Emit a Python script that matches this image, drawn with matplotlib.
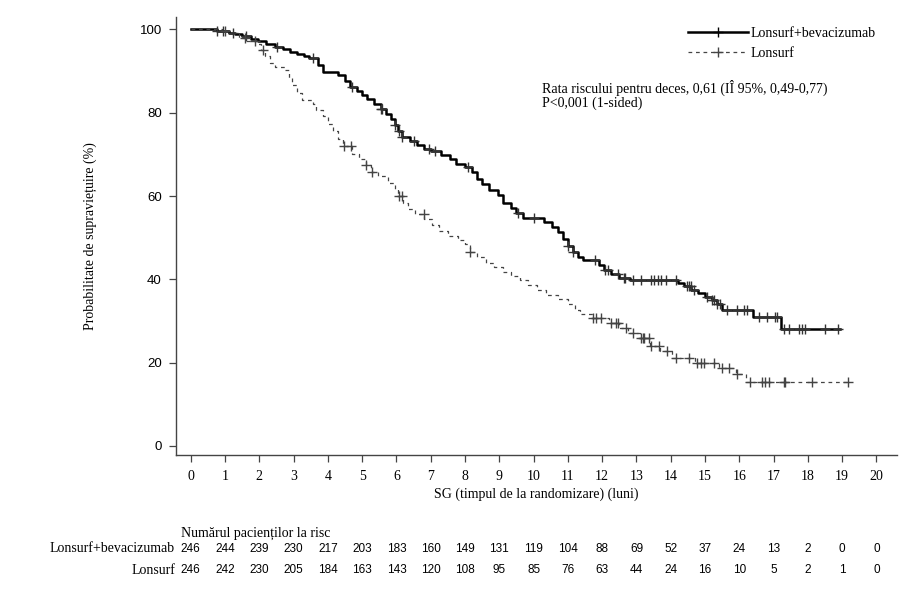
import numpy as np
import matplotlib
matplotlib.use("Agg")
from matplotlib import pyplot as plt
from matplotlib import transforms
from matplotlib.lines import Line2D

# Lonsurf + bevacizumab: step times (months) and survival (%) after each step
bev_t = [0, 0.75, 1.1, 1.3, 1.5, 1.75, 1.95, 2.2, 2.45, 2.7, 2.9, 3.1, 3.3, 3.45,
         3.7, 3.85, 4.3, 4.5, 4.65, 4.85, 5.0, 5.15, 5.35, 5.55, 5.7, 5.85, 5.95,
         6.05, 6.15, 6.4, 6.6, 6.8, 7.0, 7.3, 7.55, 7.75, 8.0, 8.2, 8.35, 8.5, 8.7,
         8.95, 9.1, 9.35, 9.5, 9.7, 10.3, 10.55, 10.7, 10.85, 11.0, 11.15, 11.3,
         11.45, 11.9, 12.05, 12.25, 12.5, 12.8, 14.2, 14.4, 14.6, 14.8, 15.0, 15.2,
         15.35, 15.5, 16.4, 17.22, 18.95]
bev_s = [100, 99.6, 99.2, 98.8, 98.4, 97.6, 97.2, 96.4, 95.8, 95.3, 94.7, 94.1, 93.6,
         93.2, 91.4, 89.8, 89.0, 87.6, 86.2, 85.3, 84.3, 83.3, 82.1, 81.0, 79.8, 78.4,
         77.0, 75.6, 74.2, 73.2, 72.3, 71.3, 70.7, 69.9, 68.9, 67.8, 67.0, 65.7, 64.2,
         62.8, 61.5, 60.2, 58.3, 57.0, 55.8, 54.6, 53.8, 52.6, 51.4, 49.6, 48.0, 46.6,
         45.4, 44.6, 43.4, 42.2, 41.2, 40.4, 39.8, 39.0, 38.3, 37.5, 36.8, 35.8, 35.0,
         34.1, 32.6, 31.0, 28.0, 28.0]
bev_cens = [0.75, 0.93, 1.22, 1.6, 2.5, 3.55, 4.7, 5.55, 5.58, 5.97, 6.07, 6.15, 6.5,
            6.94, 7.13, 8.1, 9.55, 10.0, 11.0, 11.15, 11.8, 12.07, 12.16, 12.45, 12.65,
            12.68, 12.9, 13.13, 13.41, 13.52, 13.62, 13.71, 13.85, 14.15, 14.48, 14.53,
            14.58, 14.68, 15.07, 15.2, 15.26, 15.36, 15.45, 15.65, 15.94, 16.13, 16.23,
            16.57, 16.8, 17.05, 17.1, 17.29, 17.44, 17.73, 17.82, 17.92, 18.5, 18.89]

# Lonsurf
lon_t = [0, 0.9, 1.2, 1.4, 1.6, 1.95, 2.05, 2.15, 2.3, 2.45, 2.75, 2.85, 2.95, 3.1,
         3.25, 3.55, 3.65, 3.85, 4.0, 4.15, 4.3, 4.45, 4.7, 4.9, 5.1, 5.25, 5.45, 5.75,
         5.95, 6.05, 6.2, 6.35, 6.55, 6.8, 7.05, 7.25, 7.5, 7.8, 8.0, 8.15, 8.35, 8.6,
         8.85, 9.1, 9.35, 9.6, 9.85, 10.1, 10.35, 10.7, 11.0, 11.2, 11.35, 11.7, 12.2,
         12.5, 12.75, 13.1, 13.4, 13.7, 14.05, 14.7, 15.4, 15.9, 16.2, 19.15]
lon_s = [100, 99.6, 98.8, 98.0, 97.2, 96.4, 95.0, 93.6, 92.0, 91.0, 90.2, 88.4, 86.6,
         84.8, 83.0, 82.2, 80.6, 79.2, 77.4, 75.6, 73.8, 72.0, 70.2, 68.8, 67.4, 65.8,
         64.8, 63.2, 61.6, 60.0, 58.4, 56.8, 55.6, 54.4, 53.0, 51.6, 50.4, 49.4, 48.4,
         46.6, 45.4, 44.0, 43.0, 41.8, 40.8, 39.8, 38.6, 37.4, 36.2, 35.2, 34.0, 32.6,
         31.6, 30.8, 29.6, 28.4, 27.2, 25.8, 24.0, 22.8, 21.0, 20.0, 18.8, 17.2, 15.4, 15.4]
lon_cens = [0.99, 1.57, 1.86, 2.1, 4.47, 4.66, 5.1, 5.29, 6.07, 6.16, 6.79, 8.15,
            11.73, 11.82, 11.97, 12.26, 12.4, 12.45, 12.69, 12.89, 13.13, 13.18, 13.23,
            13.37, 13.41, 13.66, 13.9, 14.15, 14.53, 14.78, 14.87, 14.97, 15.26, 15.5,
            15.7, 15.94, 16.32, 16.66, 16.76, 16.86, 17.29, 17.34, 18.11, 19.18]

risk_times = list(range(21))
bev_risk = [246, 244, 239, 230, 217, 203, 183, 160, 149, 131, 119, 104, 88, 69, 52,
            37, 24, 13, 2, 0, 0]
lon_risk = [246, 242, 230, 205, 184, 163, 143, 120, 108, 95, 85, 76, 63, 44, 24, 16,
            10, 5, 2, 1, 0]

SERIF = "Liberation Serif"
SANS = "Liberation Sans"
FS = 10


def surv_at(times, surv, x):
    idx = np.searchsorted(times, x, side="right") - 1
    return np.asarray(surv)[idx]


fig = plt.figure(figsize=(9.2, 6.03), dpi=100)
ax = fig.add_axes([0.191, 0.2454, 0.784, 0.7265])

ax.plot(bev_t, bev_s, drawstyle="steps-post", color="black", lw=1.8)
ax.plot(lon_t, lon_s, drawstyle="steps-post", color="#444444", lw=0.9,
        dashes=(3, 3))
ax.plot(bev_cens, surv_at(bev_t, bev_s, bev_cens), ls="none", marker="+",
        ms=6.5, mew=1.0, color="#333333")
ax.plot(lon_cens, surv_at(lon_t, lon_s, lon_cens), ls="none", marker="+",
        ms=6.5, mew=1.0, color="#444444")

ax.set_xlim(-0.44, 20.6)
ax.set_ylim(-2.2, 103)
ax.set_xticks(range(0, 21))
ax.set_yticks([0, 20, 40, 60, 80, 100])
for s in ["top", "right"]:
    ax.spines[s].set_visible(False)
for s in ["left", "bottom"]:
    ax.spines[s].set_color("#444444")
    ax.spines[s].set_linewidth(1.0)
ax.tick_params(axis="both", direction="out", length=5, width=0.9, color="#444444")
ax.tick_params(axis="y", pad=5)
ax.tick_params(axis="x", pad=6)
for lab in ax.get_xticklabels():
    lab.set_fontfamily(SERIF)
    lab.set_fontsize(FS)
for lab in ax.get_yticklabels():
    lab.set_fontfamily(SANS)
    lab.set_fontsize(9.5)

ax.set_xlabel("SG (timpul de la randomizare) (luni)", fontfamily=SERIF,
              fontsize=FS, labelpad=3)
ax.set_ylabel("Probabilitate de supraviețuire (%)", fontfamily=SERIF,
              fontsize=FS, labelpad=31)

handles = [
    Line2D([], [], color="black", lw=1.8, marker="+", ms=7, mew=1.0),
    Line2D([], [], color="#444444", lw=0.9, dashes=(3, 3), marker="+", ms=7, mew=1.0),
]
leg = ax.legend(handles, ["Lonsurf+bevacizumab", "Lonsurf"], loc="upper left",
                bbox_to_anchor=(0.693, 1.005), frameon=False, numpoints=1,
                handlelength=4.3, handletextpad=0.2, labelspacing=0.45,
                prop={"family": SERIF, "size": FS})

fig.text(542 / 920, 1 - 80 / 603,
         "Rata riscului pentru deces, 0,61 (IÎ 95%, 0,49-0,77)\nP<0,001 (1-sided)",
         fontfamily=SERIF, fontsize=FS, va="top", linespacing=1.05)

# number at risk table
tr = transforms.blended_transform_factory(ax.transData, fig.transFigure)
fig.text(181 / 920, 1 - 533 / 603, "Numărul pacienților la risc",
         fontfamily=SERIF, fontsize=FS, va="center")
row_y = [1 - 549 / 603, 1 - 570 / 603]
for y, name, vals in zip(row_y, ["Lonsurf+bevacizumab", "Lonsurf"],
                         [bev_risk, lon_risk]):
    fig.text(175 / 920, y, name, fontfamily=SERIF, fontsize=FS,
             ha="right", va="center")
    for t, v in zip(risk_times, vals):
        ax.text(t, y, str(v), transform=tr, ha="center", va="center",
                fontfamily=SANS, fontsize=8.5)

fig.savefig("out.png", dpi=100)
plt.close(fig)
